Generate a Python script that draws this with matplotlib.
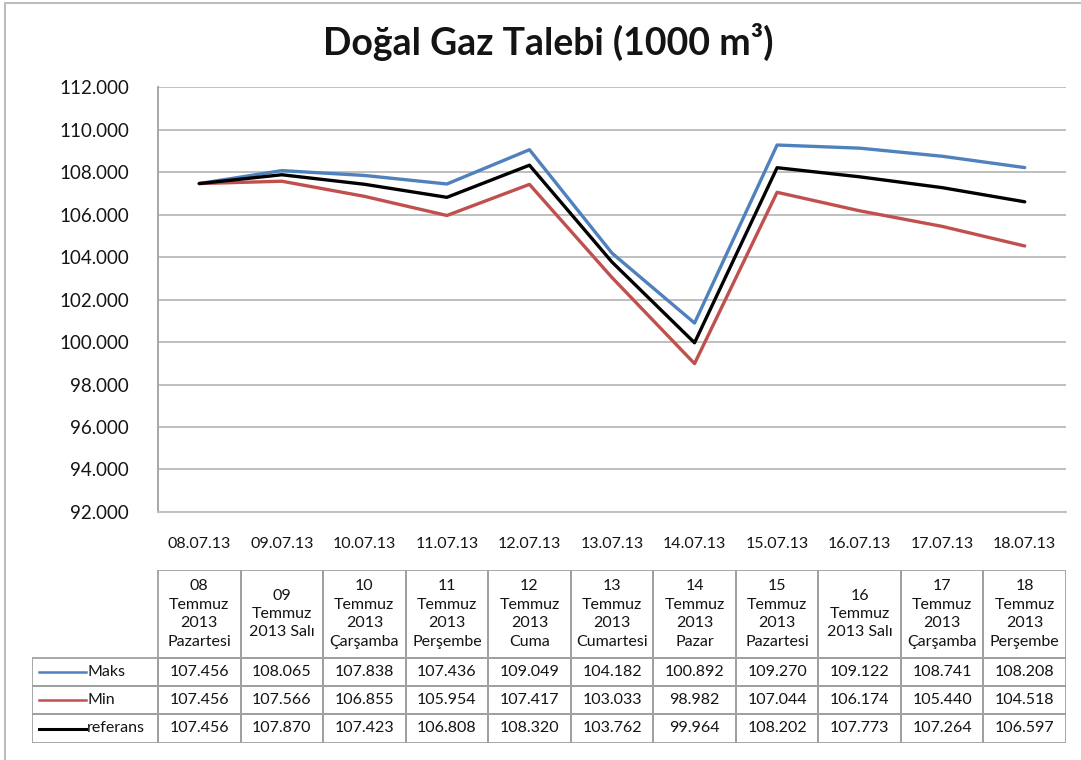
import matplotlib.pyplot as plt
from matplotlib.ticker import FuncFormatter, MultipleLocator
from matplotlib.patches import Rectangle

plt.rcParams['font.family'] = ['Lato', 'DejaVu Sans']

# data (1000 m3)
dates = ['08.07.13', '09.07.13', '10.07.13', '11.07.13', '12.07.13', '13.07.13',
         '14.07.13', '15.07.13', '16.07.13', '17.07.13', '18.07.13']
headers = ['08\nTemmuz\n2013\nPazartesi', '09\nTemmuz\n2013 Salı', '10\nTemmuz\n2013\nÇarşamba',
           '11\nTemmuz\n2013\nPerşembe', '12\nTemmuz\n2013\nCuma', '13\nTemmuz\n2013\nCumartesi',
           '14\nTemmuz\n2013\nPazar', '15\nTemmuz\n2013\nPazartesi', '16\nTemmuz\n2013 Salı',
           '17\nTemmuz\n2013\nÇarşamba', '18\nTemmuz\n2013\nPerşembe']
maks = [107456, 108065, 107838, 107436, 109049, 104182, 100892, 109270, 109122, 108741, 108208]
mini = [107456, 107566, 106855, 105954, 107417, 103033, 98982, 107044, 106174, 105440, 104518]
referans = [107456, 107870, 107423, 106808, 108320, 103762, 99964, 108202, 107773, 107264, 106597]

series = [('Maks', maks, '#4F81BD'), ('Min', mini, '#C0504D'), ('referans', referans, '#000000')]


def tr_fmt(v, pos=None):
    return '{:,.0f}'.format(v).replace(',', '.')


W, H = 1081, 760
fig = plt.figure(figsize=(W / 100, H / 100), dpi=100)
txt = '#141414'

# outer chart border
fig.patches.append(Rectangle((5 / W, -0.1), 1.2, 1 - 3 / H + 0.1, transform=fig.transFigure,
                             fill=False, edgecolor='#BDBDBD', lw=1.5))

# main plot area
px_l, px_r, px_t, px_b = 158, 1066, 87, 512
ax = fig.add_axes([px_l / W, 1 - px_b / H, (px_r - px_l) / W, (px_b - px_t) / H])
x = list(range(len(dates)))
for name, vals, col in series:
    ax.plot(x, vals, color=col, lw=2.4, solid_capstyle='round', solid_joinstyle='round')

ax.set_xlim(-0.5, len(dates) - 0.5)
ax.set_ylim(92000, 112000)
ax.yaxis.set_major_locator(MultipleLocator(2000))
ax.yaxis.set_major_formatter(FuncFormatter(tr_fmt))
ax.set_xticks(x)
ax.set_xticklabels(dates)
ax.tick_params(axis='both', length=0, colors=txt)
ax.tick_params(axis='y', labelsize=13.5, pad=21)
ax.tick_params(axis='x', labelsize=11.5, pad=18)
ax.grid(axis='y', color='#BFBFBF', lw=1.4)
ax.set_axisbelow(True)
for s in ['top', 'right']:
    ax.spines[s].set_visible(False)
ax.spines['left'].set_color('#A6A6A6')
ax.spines['bottom'].set_color('#BFBFBF')
ax.spines['left'].set_linewidth(1.4)
ax.spines['bottom'].set_linewidth(1.4)

fig.text(548 / W, 1 - 42 / H, 'Doğal Gaz Talebi (1000 m³)', ha='center', va='center',
         fontsize=27, fontweight='bold', color=txt)

# data table below the chart
tb_l, tb_t, tb_b = 32, 570, 743
cw = (px_r - px_l) / len(dates)
lead = (px_l - tb_l) / cw
tax = fig.add_axes([tb_l / W, 1 - tb_b / H, (px_r - tb_l) / W, (tb_b - tb_t) / H])
tax.set_xlim(-0.5 - lead, len(dates) - 0.5)
tax.set_ylim(tb_b - tb_t, 0)
tax.axis('off')
rows = [0, 88, 116, 144, tb_b - tb_t]
gc = '#A0A0A0'
# header row
for i, h in enumerate(headers):
    tax.add_patch(Rectangle((i - 0.5, rows[0]), 1, rows[1] - rows[0], fill=False,
                            edgecolor=gc, lw=1.3))
    tax.text(i, (rows[0] + rows[1]) / 2, h, ha='center', va='center', fontsize=11.5,
             linespacing=1.4, color=txt)
# value rows
for r, (name, vals, col) in enumerate(series):
    y0, y1 = rows[r + 1], rows[r + 2]
    ym = (y0 + y1) / 2
    tax.add_patch(Rectangle((-0.5 - lead, y0), lead, y1 - y0, fill=False, edgecolor=gc, lw=1.3))
    tax.plot([-0.5 - lead + 0.08, -0.5 - lead + 0.65], [ym, ym], color=col,
             lw=2.2 if name == 'referans' else 1.8)
    tax.text(-0.5 - lead + 0.67, ym, name, ha='left', va='center', fontsize=11.5, color=txt)
    for i, v in enumerate(vals):
        tax.add_patch(Rectangle((i - 0.5, y0), 1, y1 - y0, fill=False, edgecolor=gc, lw=1.3))
        tax.text(i, ym, tr_fmt(v), ha='center', va='center', fontsize=11.5, color=txt)

fig.savefig('out.png', dpi=100)
